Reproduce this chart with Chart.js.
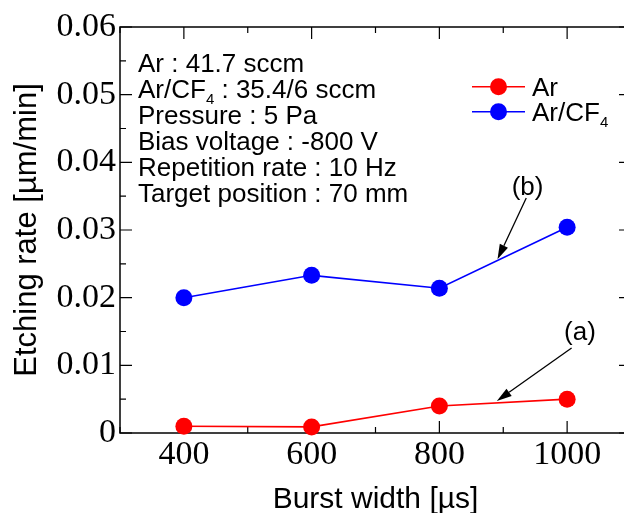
<!DOCTYPE html>
<html>
<head>
<meta charset="utf-8">
<script src="https://cdn.jsdelivr.net/npm/chart.js@4.4.1/dist/chart.umd.min.js"></script>
<style>
  html, body { margin: 0; padding: 0; background: #fff; overflow: hidden; }
  #wrap { width: 660px; height: 513px; }
</style>
</head>
<body>
<div id="wrap"><canvas id="chart" width="660" height="513"></canvas></div>
<script>
// Burst width [µs]
const burstWidth = [400, 600, 800, 1000];
// Etching rate [µm/min]
const rateAr = [0.0010, 0.0009, 0.0040, 0.0050];
const rateArCF4 = [0.0200, 0.0233, 0.0214, 0.0304];

const seriesNames = ['Ar', 'Ar/CF4'];
const seriesColors = ['#ff0000', '#0000ff'];

const xTicks = [400, 600, 800, 1000];
const xTickLabels = ['400', '600', '800', '1000'];
const yTicks = [0, 0.01, 0.02, 0.03, 0.04, 0.05, 0.06];
const yTickLabels = ['0', '0.01', '0.02', '0.03', '0.04', '0.05', '0.06'];

const conditions = [
    'Ar : 41.7 sccm',
    'Ar/CF4 : 35.4/6 sccm',
    'Pressure : 5 Pa',
    'Bias voltage : -800 V',
    'Repetition rate : 10 Hz',
    'Target position : 70 mm'
];

// (a), (b) ok isaretleri - veri koordinatinda
const callouts = [
    { text: '(a)', label: [1020, 0.01473], tail: [1007, 0.01256], tip: [890, 0.00473] },
    { text: '(b)', label: [938, 0.03628], tail: [936, 0.03473], tip: [891, 0.02567] }
];

const SANS = '"Liberation Sans", Arial, sans-serif';
const SERIF = '"Liberation Serif", "Times New Roman", serif';

// "CF4" -> CF + alt simge 4
function drawSubText(ctx, text, x, y, size) {
    const parts = text.split('CF4');
    ctx.textAlign = 'left';
    ctx.textBaseline = 'alphabetic';
    let cx = x;
    parts.forEach((p, i) => {
        ctx.font = size + 'px ' + SANS;
        ctx.fillText(p, cx, y);
        cx += ctx.measureText(p).width;
        if (i < parts.length - 1) {
            ctx.fillText('CF', cx, y);
            cx += ctx.measureText('CF').width;
            ctx.font = Math.round(size * 0.58) + 'px ' + SANS;
            ctx.fillText('4', cx, y + size * 0.24);
            cx += ctx.measureText('4').width;
        }
    });
}

function drawArrow(ctx, x1, y1, x2, y2) {
    const ang = Math.atan2(y2 - y1, x2 - x1);
    const len = 15, hw = 4.5;
    const bx = x2 - len * Math.cos(ang), by = y2 - len * Math.sin(ang);
    ctx.beginPath();
    ctx.moveTo(x1, y1);
    ctx.lineTo(bx, by);
    ctx.stroke();
    ctx.beginPath();
    ctx.moveTo(x2, y2);
    ctx.lineTo(bx + hw * Math.sin(ang), by - hw * Math.cos(ang));
    ctx.lineTo(bx - hw * Math.sin(ang), by + hw * Math.cos(ang));
    ctx.closePath();
    ctx.fill();
}

// Cerceve + iceri bakan tick'ler
const framePlugin = {
    id: 'frame',
    beforeDatasetsDraw(chart) {
        const { ctx, chartArea: a, scales: { x, y } } = chart;
        ctx.save();
        ctx.strokeStyle = '#000';
        ctx.lineWidth = 1.5;
        ctx.strokeRect(a.left, a.top, a.right - a.left, a.bottom - a.top);
        ctx.lineWidth = 1.2;
        ctx.beginPath();
        for (let v = 300; v <= 1100; v += 100) {
            const px = x.getPixelForValue(v);
            const L = (v % 200 === 0) ? 12 : 6;
            ctx.moveTo(px, a.bottom); ctx.lineTo(px, a.bottom - L);
            ctx.moveTo(px, a.top); ctx.lineTo(px, a.top + L);
        }
        for (let k = 0; k <= 12; k++) {
            const v = k * 0.005;
            const py = y.getPixelForValue(v);
            const L = (k % 2 === 0) ? 12 : 6;
            ctx.moveTo(a.left, py); ctx.lineTo(a.left + L, py);
            ctx.moveTo(a.right, py); ctx.lineTo(a.right - L, py);
        }
        ctx.stroke();
        ctx.restore();
    },
    afterDraw(chart) {
        const { ctx, scales: { x, y } } = chart;
        ctx.save();
        ctx.fillStyle = '#000';
        // kosullar
        conditions.forEach((t, i) => drawSubText(ctx, t, 138, 72.3 + i * 25.84, 26));
        // lejant
        chart.data.datasets.forEach((ds, i) => {
            const ly = 86.7 + i * 25;
            ctx.strokeStyle = ds.borderColor;
            ctx.lineWidth = ds.borderWidth;
            ctx.beginPath();
            ctx.moveTo(472, ly); ctx.lineTo(525, ly);
            ctx.stroke();
            ctx.fillStyle = ds.backgroundColor;
            ctx.beginPath();
            ctx.arc(498.5, ly, ds.pointRadius, 0, Math.PI * 2);
            ctx.fill();
            ctx.fillStyle = '#000';
            drawSubText(ctx, ds.label, 532, ly + 9.5, 26);
        });
        // ok isaretleri
        ctx.strokeStyle = '#000';
        ctx.fillStyle = '#000';
        ctx.lineWidth = 1.3;
        callouts.forEach(c => {
            drawArrow(ctx,
                x.getPixelForValue(c.tail[0]), y.getPixelForValue(c.tail[1]),
                x.getPixelForValue(c.tip[0]), y.getPixelForValue(c.tip[1]));
            ctx.font = '26px ' + SANS;
            ctx.textAlign = 'center';
            ctx.textBaseline = 'middle';
            ctx.fillText(c.text, x.getPixelForValue(c.label[0]), y.getPixelForValue(c.label[1]));
        });
        ctx.restore();
    }
};

function makeSet(i, values) {
    return {
        label: seriesNames[i],
        data: burstWidth.map((b, k) => ({ x: b, y: values[k] })),
        borderColor: seriesColors[i],
        backgroundColor: seriesColors[i],
        borderWidth: 1.6,
        pointRadius: 8.5,
        pointHoverRadius: 8.5,
        pointBorderWidth: 0,
        clip: false
    };
}

new Chart(document.getElementById('chart'), {
    type: 'line',
    data: { datasets: [makeSet(0, rateAr), makeSet(1, rateArCF4)] },
    options: {
        responsive: false,
        animation: false,
        events: [],
        layout: { padding: { top: 27, right: 29, left: 0, bottom: 0 } },
        plugins: { legend: { display: false }, tooltip: { enabled: false } },
        scales: {
            x: {
                type: 'linear',
                min: 300,
                max: 1100,
                afterBuildTicks: s => { s.ticks = xTicks.map(v => ({ value: v })); },
                afterFit: s => { s.height = 80; },
                grid: { display: false, drawTicks: false },
                border: { display: false },
                ticks: {
                    padding: 2,
                    color: '#000',
                    maxRotation: 0,
                    autoSkip: false,
                    font: { family: SERIF, size: 34 },
                    callback: (v, i) => xTickLabels[i]
                },
                title: {
                    display: true,
                    text: 'Burst width [µs]',
                    color: '#000',
                    font: { family: SANS, size: 30, lineHeight: 0.8 },
                    padding: { top: 0, bottom: 1 }
                }
            },
            y: {
                type: 'linear',
                min: 0,
                max: 0.06,
                afterBuildTicks: s => { s.ticks = yTicks.map(v => ({ value: v })); },
                afterFit: s => { s.width = 120; },
                grid: { display: false, drawTicks: false },
                border: { display: false },
                ticks: {
                    padding: 4,
                    color: '#000',
                    autoSkip: false,
                    font: { family: SERIF, size: 34 },
                    callback: (v, i) => yTickLabels[i]
                },
                title: {
                    display: true,
                    text: 'Etching rate [µm/min]',
                    color: '#000',
                    font: { family: SANS, size: 31, lineHeight: 1 },
                    padding: { top: 12, bottom: 0 }
                }
            }
        }
    },
    plugins: [framePlugin]
});
</script>
</body>
</html>
